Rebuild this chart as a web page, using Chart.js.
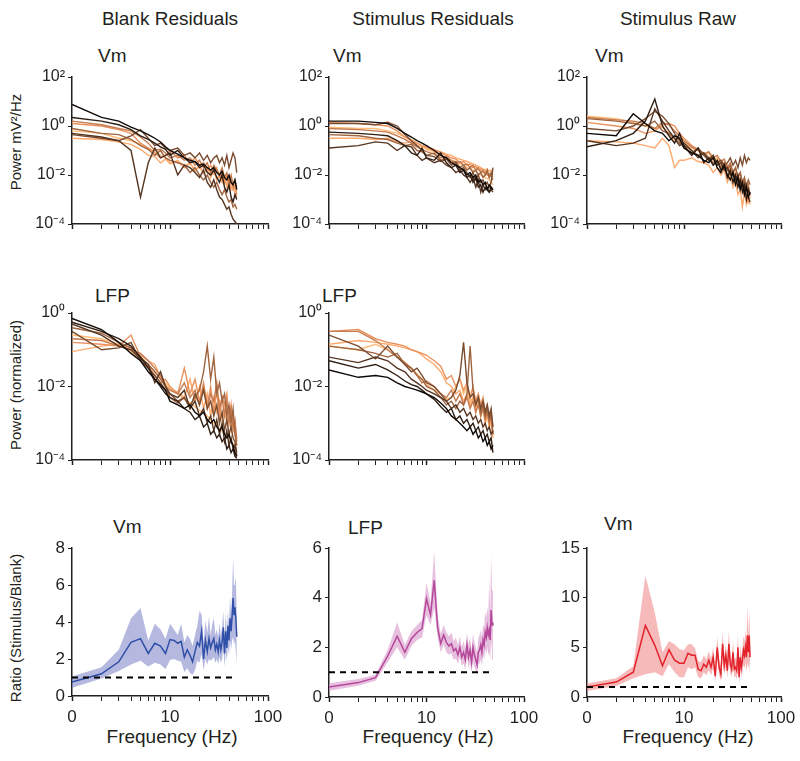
<!DOCTYPE html>
<html>
<head>
<meta charset="utf-8">
<title>Power spectra and stimulus/blank ratios</title>
<script src="https://cdn.jsdelivr.net/npm/chart.js@4.4.1/dist/chart.umd.min.js"></script>
<style>
  body { margin: 0; background: #fff; }
  #fig { position: relative; width: 800px; height: 761px; overflow: hidden;
         font-family: "Liberation Sans", Arial, Helvetica, sans-serif; color: #231f20; }
  #fig canvas { position: absolute; }
  .lbl { position: absolute; white-space: nowrap; line-height: 1; font-size: 19px; }
  .ctr { transform: translateX(-50%); }
  .ytitle { font-size: 15px; transform: translate(-50%, -50%) rotate(-90deg); }
</style>
</head>
<body>
<div id="fig">
  <div class="lbl ctr" style="left:170px; top:9px">Blank Residuals</div>
  <div class="lbl ctr" style="left:433px; top:9px">Stimulus Residuals</div>
  <div class="lbl ctr" style="left:678px; top:9px">Stimulus Raw</div>

  <div class="lbl" style="left:98px; top:46px">Vm</div>
  <div class="lbl" style="left:333px; top:46px">Vm</div>
  <div class="lbl" style="left:595px; top:46px">Vm</div>
  <div class="lbl" style="left:95px; top:286px">LFP</div>
  <div class="lbl" style="left:322px; top:286px">LFP</div>
  <div class="lbl" style="left:113px; top:517px">Vm</div>
  <div class="lbl" style="left:348px; top:518px">LFP</div>
  <div class="lbl" style="left:604px; top:514px">Vm</div>

  <div class="lbl ytitle" style="left:15px; top:142px">Power mV²/Hz</div>
  <div class="lbl ytitle" style="left:15px; top:385px">Power (normalized)</div>
  <div class="lbl ytitle" style="left:15px; top:628px">Ratio (Stimulus/Blank)</div>

  <div class="lbl ctr" style="left:172px; top:727px">Frequency (Hz)</div>
  <div class="lbl ctr" style="left:428px; top:727px">Frequency (Hz)</div>
  <div class="lbl ctr" style="left:688px; top:727px">Frequency (Hz)</div>
</div>

<script>
// ---- data ----

// frequency grid (Hz) of the spectra
const specFreqs = [1,2,3,4,5,6,7,8,9,10,12,14,16,18,20,22,24,26,28,30,32,34,36,38,40,42,44,46,48];

// frequency grid (Hz) of the ratio curves
const ratioFreqs = [1,2,3,4,5,6,7,8,9,10,11,12,13,14,15,16,17,18,19,20,21,22,23,24,25,
                    26,27,28,29,30,31,32,33,34,35,36,37,38,39,40,41,42,43,44,45,46,47,48];

// x ticks (log axis) and the labels shown on the bottom row
const xTickValues = [1,2,3,4,5,6,7,8,9,10,20,30,40,50,60,70,80,90,100];
const xLabelValues = [1, 10, 100];
const xLabelText = ['0', '10', '100'];

// y ticks
const vmPowerTicks = [1e-4, 1e-2, 1, 1e2];
const lfpPowerTicks = [1e-4, 1e-2, 1];

// one colour per cell, black -> light orange
const cellColors = ['#100a06','#301e13','#563622','#794c30','#a0643f','#c57b4f','#e9915d','#ffa96c','#ffbd78'];

// log10 power, one row per cell (columns follow specFreqs)
const blankVmLog = [
  [0.88,0.35,0.2,-0.05,-0.2,-0.35,-0.5,-0.65,-0.85,-1.0,-1.15,-1.3,-1.4,-1.45,-1.6,-1.55,-1.7,-1.8,-1.7,-1.9,-2.0,-1.85,-2.1,-2.2,-2.0,-2.3,-2.4,-2.2,-2.6],
  [0.35,0.2,0.05,-0.15,-0.4,-0.55,-0.7,-0.85,-0.95,-1.2,-1.0,-1.3,-1.5,-1.45,-1.7,-1.6,-1.9,-2.0,-1.8,-2.1,-2.3,-2.0,-2.5,-2.7,-2.4,-2.9,-3.1,-2.8,-3.0],
  [-0.3,-0.45,-0.6,-1.0,-2.9,-1.5,-0.9,-1.3,-1.2,-1.1,-2.0,-1.6,-1.7,-1.9,-2.1,-1.8,-2.3,-2.5,-2.2,-2.6,-2.9,-3.0,-3.2,-3.4,-3.3,-3.6,-3.8,-3.9,-4.0],
  [-0.35,-0.5,-0.6,-0.4,-0.15,-0.5,-0.8,-0.7,-0.9,-1.0,-0.9,-1.2,-1.1,-1.3,-1.1,-1.4,-1.2,-1.5,-1.3,-1.2,-1.5,-1.3,-1.6,-1.2,-1.7,-1.4,-1.1,-1.3,-1.9],
  [-0.1,-0.3,-0.35,-0.55,-0.8,-0.95,-1.2,-1.0,-1.3,-1.4,-1.5,-1.6,-1.9,-1.7,-2.0,-2.2,-2.0,-2.3,-2.5,-2.3,-2.6,-2.8,-2.6,-2.9,-3.1,-3.0,-3.3,-3.2,-3.4],
  [0.2,0.05,-0.1,-0.2,-0.45,-0.7,-1.0,-0.95,-1.1,-1.3,-1.2,-1.4,-1.3,-1.6,-1.4,-1.7,-1.5,-1.9,-1.6,-1.8,-2.0,-1.7,-2.1,-1.9,-2.3,-2.0,-2.4,-2.2,-2.5],
  [0.1,0.0,-0.15,-0.3,-0.7,-0.9,-1.1,-1.3,-1.2,-1.0,-1.3,-1.2,-1.5,-1.3,-1.6,-1.5,-1.8,-1.6,-1.9,-1.7,-2.1,-1.9,-2.3,-2.0,-2.5,-2.2,-2.6,-2.4,-2.8],
  [-0.5,-0.55,-0.65,-0.75,-0.95,-1.2,-1.25,-1.5,-1.35,-1.55,-1.4,-1.7,-1.5,-1.85,-1.6,-1.95,-1.7,-2.1,-1.8,-2.2,-2.0,-2.3,-2.1,-2.5,-2.2,-2.6,-2.4,-2.7,-2.9],
  [-0.2,-0.3,-0.5,-0.6,-0.75,-0.9,-1.05,-1.2,-1.3,-1.5,-1.45,-1.6,-1.55,-1.75,-1.7,-1.9,-1.8,-2.0,-1.95,-2.1,-2.05,-2.2,-2.15,-2.35,-2.3,-2.5,-2.45,-2.6,-2.7]
];

const stimVmLog = [
  [0.2,0.2,0.15,0.1,-0.1,-0.3,-0.45,-0.6,-0.7,-0.8,-1.0,-1.2,-1.3,-1.5,-1.6,-1.7,-1.8,-2.0,-1.9,-2.1,-2.0,-2.3,-2.2,-2.4,-2.3,-2.6,-2.4,-2.5,-2.6],
  [-0.25,-0.3,-0.35,-0.4,-0.6,-0.8,-1.1,-1.2,-0.9,-1.3,-1.4,-1.1,-1.5,-1.7,-1.6,-1.9,-1.8,-2.1,-2.0,-2.3,-2.1,-2.5,-2.4,-2.7,-2.5,-2.6,-2.7,-2.5,-2.6],
  [-0.9,-0.8,-0.65,-0.7,-1.0,-0.8,-0.85,-1.2,-1.4,-1.3,-1.5,-1.4,-1.6,-1.7,-1.9,-1.8,-2.0,-2.1,-2.3,-2.1,-2.5,-2.2,-2.7,-2.4,-2.6,-2.5,-2.7,-2.6,-2.7],
  [0.1,0.1,0.05,0.15,0.0,-0.35,-0.6,-0.8,-1.0,-1.2,-1.25,-1.45,-1.35,-1.6,-1.5,-1.8,-1.7,-1.9,-2.1,-1.9,-2.2,-2.0,-2.3,-2.2,-2.4,-2.3,-2.5,-2.3,-1.7],
  [-0.35,-0.4,-0.5,-0.55,-0.7,-0.8,-0.75,-1.0,-1.05,-1.2,-1.1,-1.4,-1.3,-1.5,-1.45,-1.7,-1.6,-1.8,-1.7,-1.9,-1.8,-2.0,-1.9,-2.1,-2.0,-1.8,-2.1,-1.9,-2.0],
  [-0.1,-0.15,-0.2,-0.25,-0.4,-0.55,-0.7,-0.85,-0.95,-1.05,-1.15,-1.3,-1.25,-1.4,-1.5,-1.45,-1.6,-1.55,-1.7,-1.6,-1.8,-1.7,-1.9,-1.8,-2.0,-1.9,-2.1,-2.0,-2.2],
  [0.15,0.1,0.05,0.0,-0.2,-0.45,-0.6,-0.7,-0.8,-0.85,-0.95,-1.1,-1.2,-1.3,-1.35,-1.5,-1.45,-1.6,-1.55,-1.7,-1.65,-1.8,-1.75,-1.9,-1.85,-2.0,-1.95,-2.05,-2.1],
  [-0.5,-0.5,-0.55,-0.5,-0.65,-0.7,-0.65,-0.8,-0.85,-0.9,-1.0,-1.05,-1.15,-1.2,-1.3,-1.35,-1.4,-1.45,-1.5,-1.55,-1.6,-1.65,-1.7,-1.75,-1.8,-1.75,-1.85,-1.8,-1.9],
  [-0.05,-0.1,-0.1,-0.2,-0.3,-0.45,-0.55,-0.7,-0.8,-0.95,-1.05,-1.2,-1.3,-1.4,-1.45,-1.55,-1.6,-1.7,-1.75,-1.8,-1.85,-1.95,-2.0,-2.05,-2.1,-2.15,-2.2,-2.3,-2.4]
];

const rawVmLog = [
  [-0.3,-0.4,0.5,0.1,-0.2,-0.3,-0.6,-0.4,-0.5,-0.9,-1.1,-1.2,-1.4,-1.5,-1.3,-1.7,-1.9,-1.6,-2.0,-2.2,-1.9,-2.4,-2.1,-2.6,-2.3,-2.8,-2.5,-2.9,-2.7],
  [-0.85,-0.6,-0.3,0.2,1.1,0.0,-0.4,-0.7,-0.3,-0.8,-1.2,-0.9,-1.5,-1.3,-1.6,-1.4,-1.8,-1.6,-2.1,-1.8,-2.3,-2.0,-2.5,-2.2,-2.7,-2.4,-3.0,-2.6,-2.8],
  [-0.6,-0.8,-0.7,-0.5,0.7,0.2,-0.2,-0.5,-0.8,-0.7,-1.0,-1.3,-1.1,-1.4,-1.2,-1.6,-1.5,-1.8,-1.7,-2.0,-1.9,-2.2,-2.0,-2.5,-2.3,-2.7,-2.4,-2.9,-3.1],
  [-0.1,-0.2,0.0,0.3,0.6,0.4,0.1,-0.3,-0.6,-0.9,-1.1,-0.9,-1.2,-1.4,-1.3,-1.5,-1.4,-1.6,-1.5,-1.3,-1.6,-1.4,-1.7,-1.3,-1.6,-1.2,-1.5,-1.3,-1.4],
  [0.3,0.2,0.1,0.0,0.2,-0.2,-0.3,-0.5,-0.7,-0.8,-1.0,-1.2,-1.1,-1.3,-1.5,-1.4,-1.7,-1.5,-1.8,-1.6,-1.9,-1.7,-2.1,-1.9,-2.3,-2.1,-2.5,-2.2,-2.4],
  [0.35,0.25,0.2,0.1,-0.1,0.15,0.05,-0.2,-0.4,-0.6,-0.85,-1.0,-1.15,-1.05,-1.3,-1.2,-1.45,-1.35,-1.7,-1.5,-1.9,-1.7,-2.1,-1.9,-2.4,-2.2,-2.6,-2.4,-2.8],
  [0.15,0.0,-0.1,-0.3,-0.2,0.05,0.1,0.0,-0.3,-0.5,-0.8,-0.95,-1.1,-1.3,-1.2,-1.5,-1.4,-1.75,-1.6,-1.9,-1.8,-2.2,-2.0,-2.5,-2.3,-2.8,-2.6,-3.1,-2.9],
  [-0.6,-0.65,-0.7,-0.8,-0.9,-0.5,-0.8,-1.7,-1.4,-1.4,-1.3,-1.45,-1.5,-1.6,-1.9,-1.7,-2.0,-1.8,-2.3,-2.0,-2.5,-2.2,-2.8,-2.6,-3.3,-2.7,-3.2,-2.9,-3.2],
  [0.4,0.3,0.15,0.0,-0.1,-0.05,-0.3,-0.6,-0.5,-0.7,-0.9,-1.0,-1.2,-1.1,-1.4,-1.3,-1.6,-1.5,-1.8,-1.7,-2.0,-1.9,-2.2,-2.1,-2.4,-2.3,-2.6,-2.5,-2.9]
];

const blankLfpLog = [
  [-0.15,-0.45,-0.8,-1.1,-1.3,-1.6,-1.8,-1.95,-2.1,-2.4,-2.5,-2.6,-2.5,-2.7,-2.8,-2.7,-2.9,-3.0,-2.9,-3.1,-3.2,-3.1,-3.3,-3.4,-3.3,-3.5,-3.6,-3.8,-3.9],
  [-0.25,-0.5,-0.7,-0.9,-1.2,-1.5,-1.8,-2.0,-2.2,-2.3,-2.4,-2.6,-2.7,-2.9,-2.8,-3.1,-3.0,-3.3,-3.2,-3.4,-3.3,-3.5,-3.4,-3.7,-3.6,-3.8,-3.7,-3.9,-3.95],
  [-0.3,-0.6,-0.9,-1.0,-1.25,-1.4,-1.9,-1.6,-2.0,-2.2,-2.3,-2.1,-2.6,-2.4,-2.8,-2.6,-3.0,-2.8,-3.2,-2.9,-3.3,-3.0,-3.5,-3.2,-3.6,-3.4,-3.7,-3.6,-3.8],
  [-0.5,-1.0,-0.95,-0.8,-1.3,-1.5,-1.7,-1.9,-2.1,-2.2,-2.4,-2.3,-2.6,-2.2,-2.5,-2.1,-2.6,-2.4,-2.8,-2.5,-3.0,-2.7,-3.2,-2.9,-3.3,-3.1,-3.4,-3.5,-3.9],
  [-0.4,-0.55,-0.8,-0.95,-1.2,-1.4,-1.6,-1.8,-2.0,-2.3,-2.45,-2.3,-2.5,-2.3,-2.1,-1.6,-0.9,-1.8,-1.2,-2.2,-1.9,-2.4,-2.2,-2.8,-2.5,-3.0,-2.6,-3.3,-3.6],
  [-0.7,-0.75,-0.9,-1.0,-1.1,-1.3,-1.5,-1.7,-2.0,-2.1,-2.2,-1.9,-2.3,-2.1,-2.5,-2.0,-2.6,-2.2,-2.4,-1.9,-2.6,-2.3,-2.8,-2.4,-3.0,-2.6,-3.1,-2.9,-3.5],
  [-0.8,-0.85,-0.9,-0.6,-1.2,-1.45,-1.7,-1.9,-1.8,-2.0,-2.2,-1.5,-2.2,-1.8,-2.4,-1.9,-2.5,-2.0,-2.7,-2.1,-2.9,-2.3,-2.5,-2.2,-2.9,-2.5,-3.2,-3.0,-3.4],
  [-1.05,-0.9,-0.85,-0.95,-1.15,-1.3,-1.4,-1.75,-1.95,-2.1,-2.15,-2.3,-1.8,-2.4,-2.0,-2.6,-2.2,-2.8,-2.3,-2.7,-2.4,-2.9,-2.6,-3.0,-2.7,-3.2,-2.9,-3.3,-3.6],
  [-0.6,-0.7,-0.85,-1.05,-1.25,-1.4,-1.6,-1.8,-1.9,-2.05,-2.2,-2.35,-2.45,-2.55,-2.65,-2.7,-2.8,-2.9,-3.0,-3.05,-3.15,-3.2,-3.3,-3.35,-3.4,-3.5,-3.55,-3.6,-3.7]
];

const stimLfpLog = [
  [-1.55,-1.75,-1.7,-1.75,-1.9,-2.0,-2.05,-2.1,-2.15,-2.2,-2.3,-2.45,-2.6,-2.8,-2.9,-3.0,-3.1,-3.2,-3.1,-3.3,-3.2,-3.4,-3.3,-3.5,-3.4,-3.6,-3.5,-3.7,-3.6],
  [-1.3,-1.5,-1.4,-1.55,-1.7,-1.85,-1.95,-2.0,-2.1,-2.2,-2.35,-2.55,-2.7,-2.6,-2.9,-2.8,-3.0,-2.9,-3.1,-3.0,-3.2,-3.1,-3.3,-3.2,-3.4,-3.3,-3.5,-3.4,-3.8],
  [-1.2,-1.35,-1.2,-1.3,-1.5,-1.6,-1.8,-1.9,-2.0,-2.1,-2.2,-2.3,-2.4,-2.6,-2.5,-2.7,-2.6,-2.8,-2.7,-2.9,-2.8,-3.0,-2.9,-3.1,-3.0,-3.2,-3.1,-3.3,-3.2],
  [-0.6,-0.9,-1.25,-0.9,-1.2,-1.4,-1.6,-1.5,-1.7,-1.9,-2.0,-2.2,-2.4,-2.3,-2.1,-1.7,-0.8,-1.9,-2.3,-2.2,-2.5,-2.3,-2.6,-2.4,-2.7,-2.5,-2.8,-2.6,-3.1],
  [-0.9,-1.0,-1.1,-1.2,-1.1,-1.4,-1.5,-1.7,-1.8,-2.0,-2.1,-2.3,-2.5,-2.4,-2.6,-2.4,-2.5,-2.2,-0.9,-2.1,-2.5,-2.3,-2.7,-2.5,-2.8,-2.6,-2.9,-2.7,-3.3],
  [-0.5,-0.5,-0.75,-1.0,-1.2,-1.35,-1.5,-1.7,-1.9,-1.85,-2.0,-2.2,-2.3,-2.1,-2.4,-2.2,-2.5,-2.3,-2.6,-2.4,-2.7,-2.5,-2.8,-2.6,-2.9,-2.7,-3.0,-2.8,-3.3],
  [-0.5,-0.45,-0.7,-0.8,-0.85,-0.9,-1.0,-1.05,-1.1,-1.15,-1.3,-1.45,-1.8,-1.7,-2.0,-1.8,-2.1,-1.9,-2.3,-2.0,-2.4,-2.2,-2.5,-2.3,-2.7,-2.5,-2.9,-2.7,-3.1],
  [-0.85,-0.75,-0.8,-0.85,-0.9,-0.95,-1.0,-1.05,-1.15,-1.25,-1.4,-1.6,-1.9,-2.0,-2.2,-2.1,-2.4,-2.2,-2.5,-2.3,-2.7,-2.4,-2.8,-2.5,-3.0,-2.7,-3.1,-2.9,-3.4],
  [-0.9,-1.0,-0.85,-1.0,-1.2,-1.35,-1.5,-1.65,-1.8,-1.95,-2.1,-2.2,-2.35,-2.3,-2.0,-1.8,-2.2,-2.0,-2.4,-2.3,-2.6,-2.4,-2.8,-2.6,-3.0,-2.8,-3.1,-3.0,-3.3]
];

// stimulus / blank ratio: mean and shaded band (columns follow ratioFreqs)
const vmRatioMean = [0.75,1.2,1.85,2.9,3.1,2.3,2.85,2.7,2.3,3.05, 3.0,2.85,2.95,2.1,2.5,2.2,1.85,2.4,2.9,2.7,
                     3.5,2.0,3.0,2.4,3.1,2.6,2.9,3.1,2.5,2.8, 2.4,3.0,2.5,2.9,3.7,2.3,3.5,2.6,3.8,3.0,
                     4.2,3.5,4.3,5.3,4.4,4.8,4.2,3.2];
const vmRatioLo = [0.45,0.95,1.35,1.7,1.9,1.6,1.8,1.7,1.45,1.95, 2.0,1.9,1.85,1.3,1.5,1.25,1.15,1.4,1.9,1.8,
                   2.3,1.4,2.0,1.7,2.0,1.9,2.0,2.1,1.8,2.0, 1.7,2.1,1.8,2.0,2.6,1.6,2.4,1.9,2.7,2.2,
                   3.0,2.5,3.0,3.2,2.8,3.0,2.3,1.75];
const vmRatioHi = [1.05,1.55,2.5,4.2,4.75,3.0,3.9,3.6,3.1,3.9, 3.6,3.3,3.9,2.9,3.3,3.1,2.7,3.3,3.8,4.6,
                   4.4,2.9,4.1,3.4,4.3,3.3,3.9,4.2,3.3,3.6, 3.2,3.9,3.3,3.7,4.6,3.1,4.5,3.4,4.6,3.8,
                   5.4,4.3,5.5,7.5,6.0,6.4,6.2,4.8];

const lfpRatioMean = [0.4,0.58,0.78,1.65,2.45,1.8,2.35,2.6,2.75,3.95, 3.3,4.7,2.8,2.15,2.5,2.2,2.05,2.15,1.85,1.95,
                      1.7,2.0,1.6,1.8,1.5,2.1,1.6,1.9,1.4,2.0, 1.7,1.5,1.3,1.8,1.9,2.1,1.8,2.3,2.1,2.6,
                      2.4,2.8,2.5,2.7,2.3,3.5,2.9,3.0];
const lfpRatioLo = [0.25,0.45,0.65,1.4,2.0,1.5,2.05,2.3,2.4,3.3, 2.9,3.6,2.4,1.8,2.1,1.8,1.7,1.75,1.5,1.55,
                    1.35,1.6,1.25,1.35,1.1,1.6,1.15,1.4,1.0,1.45, 1.2,1.1,0.9,1.3,1.35,1.5,1.25,1.7,1.5,1.9,
                    1.7,2.0,1.7,1.8,1.5,2.3,1.9,1.5];
const lfpRatioHi = [0.55,0.72,0.9,1.9,3.0,2.1,2.65,2.9,3.1,4.6, 3.8,5.85,3.3,2.55,2.9,2.6,2.45,2.6,2.25,2.4,
                    2.1,2.45,2.0,2.25,1.95,2.6,2.1,2.4,1.85,2.55, 2.2,2.0,1.8,2.35,2.5,2.7,2.4,2.9,2.8,3.4,
                    3.2,3.6,3.3,4.7,3.4,5.7,4.3,5.7];

const rawRatioMean = [1.0,1.5,2.5,7.2,5.2,3.15,4.75,3.7,3.4,3.4, 4.4,4.2,4.2,2.8,2.65,3.3,3.0,3.7,3.0,4.0,
                      2.1,5.0,3.0,2.3,5.35,3.15,4.2,2.65,5.35,3.3, 2.8,4.5,2.8,3.0,2.65,5.0,2.0,4.0,3.0,3.65,
                      4.7,4.2,5.0,4.0,6.2,4.5,6.2,4.0];
const rawRatioLo = [0.6,1.1,1.9,2.3,2.5,2.1,3.3,2.5,2.0,2.0, 3.0,2.8,3.0,2.0,1.9,2.5,2.2,2.7,2.2,2.9,
                    1.5,3.8,2.2,1.6,4.1,2.3,3.1,1.9,4.0,2.4, 2.0,3.3,2.0,2.1,1.8,3.6,1.3,2.8,2.0,2.5,
                    3.2,2.9,3.4,2.6,3.4,2.9,3.6,2.1];
const rawRatioHi = [1.35,1.9,3.1,12.2,8.5,4.5,5.6,5.3,4.8,4.7, 5.3,5.3,4.9,3.6,3.5,4.2,3.8,4.6,3.9,5.0,
                    2.9,6.1,3.9,3.1,6.6,4.1,5.3,3.5,6.7,4.3, 3.7,5.7,3.7,4.0,3.6,6.4,2.8,5.3,4.1,4.9,
                    6.2,5.6,6.7,5.5,9.2,6.3,8.7,6.0];

// dashed reference at ratio = 1
const refLineFreqs = [1, 45];
const refLineValues = [1, 1];

// ---- drawing ----

const FONT = '"Liberation Sans", Arial, Helvetica, sans-serif';
const INK = '#231f20';
const SUP = {'-': '⁻', '0': '⁰', '1': '¹', '2': '²', '3': '³', '4': '⁴'};

function powerLabel(v) {
    const e = Math.round(Math.log10(v));
    return '10' + String(e).split('').map(c => SUP[c]).join('');
}

// place a canvas so that its chart area lands on the given box
function addCanvas(box, m) {
    const c = document.createElement('canvas');
    const w = m.yw + (box.x1 - box.x0) + m.pr;
    const h = m.pt + (box.bottom - box.top) + m.xh;
    c.width = w;
    c.height = h;
    c.style.left = (box.x0 - m.yw) + 'px';
    c.style.top = (box.top - m.pt) + 'px';
    c.style.width = w + 'px';
    c.style.height = h + 'px';
    document.getElementById('fig').appendChild(c);
    return c;
}

function xAxis(m, showLabels) {
    return {
        type: 'logarithmic', min: 1, max: 100,
        afterBuildTicks: s => { s.ticks = xTickValues.map(v => ({value: v})); },
        afterFit: s => { s.height = m.xh; s.paddingLeft = 0; s.paddingRight = 0; },
        border: {display: true, color: INK, width: 1.5},
        grid: {drawOnChartArea: false, drawTicks: true, tickLength: 5, color: INK,
               tickWidth: ctx => (ctx.tick && [1, 10, 100].includes(ctx.tick.value)) ? 1.5 : 1},
        ticks: {
            autoSkip: false, maxRotation: 0, minRotation: 0, padding: 6, color: INK,
            font: {family: FONT, size: 17},
            callback: v => {
                if (!showLabels) return '';
                const i = xLabelValues.indexOf(v);
                return i >= 0 ? xLabelText[i] : '';
            }
        }
    };
}

function baseOptions(m, xScale, yScale) {
    return {
        responsive: false,
        animation: false,
        layout: {padding: {top: m.pt, right: m.pr, bottom: 0, left: 0}},
        plugins: {legend: {display: false}, tooltip: {enabled: false}},
        elements: {point: {radius: 0}, line: {tension: 0}},
        scales: {x: xScale, y: yScale}
    };
}

const specMargins = {yw: 50, pt: 14, pr: 16, xh: 12};
const ratioMargins = {yw: 40, pt: 14, pr: 20, xh: 34};

function spectrumChart(box, rows, yMin, yMax, yTicks) {
    const canvas = addCanvas(box, specMargins);
    const datasets = rows.map((row, i) => ({
        data: row.map((e, j) => ({x: specFreqs[j], y: Math.pow(10, e)})),
        borderColor: cellColors[i],
        borderWidth: 1.4,
        fill: false
    }));
    const yScale = {
        type: 'logarithmic', min: yMin, max: yMax,
        afterBuildTicks: s => { s.ticks = yTicks.map(v => ({value: v})); },
        afterFit: s => { s.width = specMargins.yw; s.paddingTop = 0; s.paddingBottom = 0; },
        border: {display: true, color: INK, width: 1.5},
        grid: {drawOnChartArea: false, drawTicks: true, tickLength: 4, color: INK},
        ticks: {padding: 3, color: INK, font: {family: FONT, size: 16}, callback: v => powerLabel(v)}
    };
    return new Chart(canvas, {
        type: 'line',
        data: {datasets: datasets},
        options: baseOptions(specMargins, xAxis(specMargins, false), yScale)
    });
}

function ratioChart(box, mean, lo, hi, yMax, yStep, lineColor, bandColor) {
    const canvas = addCanvas(box, ratioMargins);
    const pts = arr => arr.map((v, j) => ({x: ratioFreqs[j], y: v}));
    const datasets = [
        {data: refLineFreqs.map((f, j) => ({x: f, y: refLineValues[j]})),
         borderColor: '#000', borderWidth: 2, borderDash: [6, 5], fill: false},
        {data: pts(mean), borderColor: lineColor, borderWidth: 1.5, fill: false},
        {data: pts(lo), borderColor: 'rgba(0,0,0,0)', borderWidth: 0, fill: false},
        {data: pts(hi), borderColor: 'rgba(0,0,0,0)', borderWidth: 0, fill: '-1', backgroundColor: bandColor}
    ];
    const yScale = {
        type: 'linear', min: 0, max: yMax,
        afterFit: s => { s.width = ratioMargins.yw; s.paddingTop = 0; s.paddingBottom = 0; },
        border: {display: true, color: INK, width: 1.5},
        grid: {drawOnChartArea: false, drawTicks: true, tickLength: 4, color: INK},
        ticks: {stepSize: yStep, padding: 3, color: INK, font: {family: FONT, size: 17}}
    };
    return new Chart(canvas, {
        type: 'line',
        data: {datasets: datasets},
        options: baseOptions(ratioMargins, xAxis(ratioMargins, true), yScale)
    });
}

// top row: Vm spectra
spectrumChart({x0: 72, x1: 268, top: 77, bottom: 224}, blankVmLog, 1e-4, 1e2, vmPowerTicks);
spectrumChart({x0: 329, x1: 524, top: 77, bottom: 224}, stimVmLog, 1e-4, 1e2, vmPowerTicks);
spectrumChart({x0: 587, x1: 781, top: 77, bottom: 224}, rawVmLog, 1e-4, 1e2, vmPowerTicks);

// middle row: LFP spectra
spectrumChart({x0: 72, x1: 268, top: 313, bottom: 460}, blankLfpLog, 1e-4, 1, lfpPowerTicks);
spectrumChart({x0: 329, x1: 524, top: 313, bottom: 460}, stimLfpLog, 1e-4, 1, lfpPowerTicks);

// bottom row: stimulus / blank ratios
ratioChart({x0: 72, x1: 268, top: 548, bottom: 696}, vmRatioMean, vmRatioLo, vmRatioHi, 8, 2,
           '#2f4fa8', 'rgba(120,128,196,0.55)');
ratioChart({x0: 329, x1: 524, top: 548, bottom: 697}, lfpRatioMean, lfpRatioLo, lfpRatioHi, 6, 2,
           '#b5479b', 'rgba(214,150,200,0.6)');
ratioChart({x0: 587, x1: 781, top: 548, bottom: 697}, rawRatioMean, rawRatioLo, rawRatioHi, 15, 5,
           '#e3222b', 'rgba(240,140,140,0.6)');
</script>
</body>
</html>
